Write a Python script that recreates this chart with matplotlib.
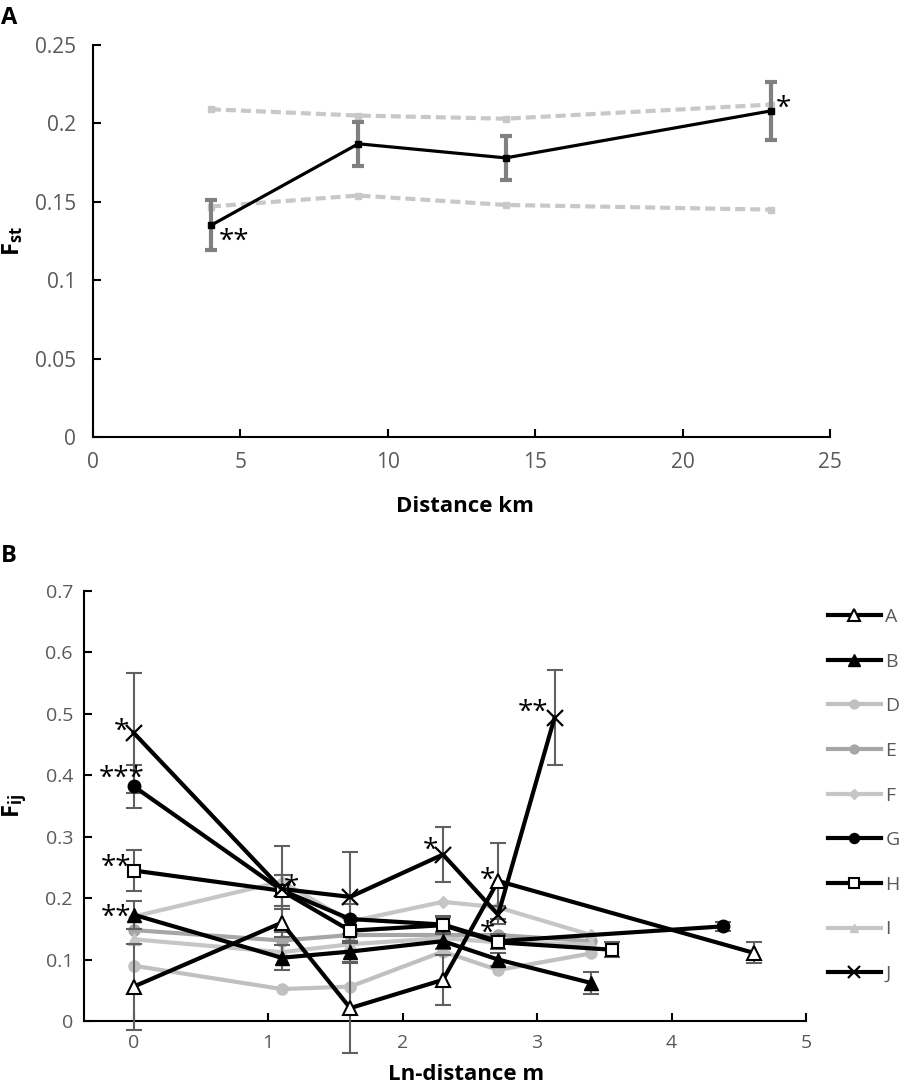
import matplotlib
matplotlib.use("Agg")
import matplotlib.pyplot as plt
from matplotlib.ticker import FuncFormatter

plt.rcParams['font.family'] = ['Open Sans', 'DejaVu Sans']
plt.rcParams['mathtext.fontset'] = 'custom'
plt.rcParams['mathtext.rm'] = 'Open Sans'
plt.rcParams['mathtext.bf'] = 'Open Sans:bold'

# ---- panel A data ----
dist_km = [4, 9, 14, 23]
fst_obs = [0.135, 0.187, 0.178, 0.208]
fst_err = [0.016, 0.014, 0.014, 0.0185]
fst_upper = [0.209, 0.205, 0.203, 0.212]
fst_lower = [0.147, 0.154, 0.148, 0.145]
fst_stars = ['**', '', '', '*']

# ---- panel B data ----
x_A = [0, 1.10, 1.61, 2.30, 2.71, 4.61]
y_A = [0.056, 0.160, 0.021, 0.067, 0.228, 0.111]
e_A = [0.070, 0.023, 0.073, 0.041, 0.062, 0.017]

x_B = [0, 1.10, 1.61, 2.30, 2.71, 3.40]
y_B = [0.173, 0.103, 0.113, 0.130, 0.100, 0.062]
e_B = [0.023, 0.020, 0.017, 0.012, 0.010, 0.018]

x_D = [0, 1.10, 1.61, 2.30, 2.71, 3.40]
y_D = [0.090, 0.052, 0.056, 0.113, 0.083, 0.110]

x_E = [0, 1.10, 1.61, 2.30, 2.71, 3.40]
y_E = [0.148, 0.131, 0.140, 0.140, 0.140, 0.130]

x_F = [0, 1.10, 1.61, 2.30, 2.71, 3.40]
y_F = [0.170, 0.227, 0.162, 0.194, 0.185, 0.140]

x_G = [0, 1.10, 1.61, 2.30, 2.71, 4.38]
y_G = [0.382, 0.213, 0.166, 0.157, 0.130, 0.154]
e_G = [0.035, 0.025, 0.025, 0.012, 0.012, 0.007]

x_H = [0, 1.10, 1.61, 2.30, 2.71, 3.56]
y_H = [0.245, 0.212, 0.147, 0.156, 0.128, 0.116]
e_H = [0.034, 0.025, 0.020, 0.015, 0.010, 0.012]

x_I = [0, 1.10, 1.61, 2.30, 2.71, 3.40]
y_I = [0.133, 0.112, 0.125, 0.135, 0.128, 0.125]

x_J = [0, 1.10, 1.61, 2.30, 2.71, 3.13]
y_J = [0.469, 0.215, 0.202, 0.271, 0.173, 0.494]
e_J = [0.098, 0.070, 0.073, 0.045, 0.015, 0.078]

# significance marks in panel B: (x, y, text, dx px, dy px)
stars_B = [
    (0, 0.469, '*', -12, 1),
    (0, 0.382, '***', -12, 8),
    (0, 0.245, '**', -18, 3),
    (0, 0.173, '**', -18, -3),
    (1.10, 0.213, '*', 10, 2),
    (2.30, 0.271, '*', -13, 4),
    (2.71, 0.228, '*', -11, 0),
    (2.71, 0.130, '*', -11, 7),
    (3.13, 0.494, '**', -22, 5),
]

tick_col = '#595959'
fmt = FuncFormatter(lambda v, p: '%g' % round(v, 3))

fig = plt.figure(figsize=(9.02, 10.91), dpi=100)
W, H = 902, 1091

def style_axes(ax, size):
    for s in ['top', 'right']:
        ax.spines[s].set_visible(False)
    for s in ['left', 'bottom']:
        ax.spines[s].set_linewidth(1.5)
    ax.tick_params(direction='in', length=6, width=1.5, colors='black',
                   labelcolor=tick_col, labelsize=size)
    ax.yaxis.set_major_formatter(fmt)

# ---------- panel A ----------
axA = fig.add_axes([93 / W, 1 - 437 / H, (830 - 93) / W, (437 - 45) / H])
style_axes(axA, 15)
axA.tick_params(axis='y', pad=12)
axA.tick_params(axis='x', pad=11)
axA.plot(dist_km, fst_upper, color='#c8c8c8', lw=3, dashes=(2.4, 1.2),
         marker='s', ms=5, zorder=2)
axA.plot(dist_km, fst_lower, color='#c8c8c8', lw=3, dashes=(2.4, 1.2),
         marker='s', ms=5, zorder=2)
eb = axA.errorbar(dist_km, fst_obs, yerr=fst_err, fmt='none', ecolor='#808080',
                  elinewidth=3, capsize=4, capthick=3, zorder=3)
axA.plot(dist_km, fst_obs, color='black', lw=2.3, marker='s', ms=5, zorder=4)
for xi, yi, s in zip(dist_km, fst_obs, fst_stars):
    if s == '**':
        axA.annotate(s, (xi, yi), xytext=(23, -16), textcoords='offset pixels',
                     ha='center', va='center', fontsize=20)
    elif s == '*':
        axA.annotate(s, (xi, yi), xytext=(12, 2), textcoords='offset pixels',
                     ha='center', va='center', fontsize=20)
axA.set_xlim(0, 25)
axA.set_ylim(0, 0.25)
axA.set_xticks([0, 5, 10, 15, 20, 25])
axA.set_yticks([0, 0.05, 0.1, 0.15, 0.2, 0.25])
axA.set_xlabel('Distance km', fontsize=16, fontweight='bold')
axA.xaxis.set_label_coords((465 - 93) / 737, -69 / 392)
axA.xaxis.label.set_va('center')
axA.set_ylabel(r'$\mathbf{F_{st}}$', fontsize=17)
axA.yaxis.set_label_coords((13 - 93) / 737, 0.5)
axA.yaxis.label.set_va('center')

# ---------- panel B ----------
axB = fig.add_axes([84 / W, 1 - 1021 / H, (806 - 84) / W, (1021 - 591) / H])
style_axes(axB, 14)
axB.tick_params(axis='y', pad=8)
axB.tick_params(axis='x', pad=9)

black_series = [
    ('A', x_A, y_A, e_A, dict(marker='^', mfc='white', mec='black', ms=10, mew=1.5)),
    ('B', x_B, y_B, e_B, dict(marker='^', mfc='black', mec='black', ms=10)),
    ('G', x_G, y_G, e_G, dict(marker='o', mfc='black', mec='black', ms=9)),
    ('H', x_H, y_H, e_H, dict(marker='s', mfc='white', mec='black', ms=9, mew=1.5)),
    ('J', x_J, y_J, e_J, dict(marker='x', mec='black', ms=11, mew=1.6)),
]
gray_series = [
    ('D', x_D, y_D, dict(color='#c0c0c0', marker='o', ms=8)),
    ('E', x_E, y_E, dict(color='#a6a6a6', marker='o', ms=8)),
    ('F', x_F, y_F, dict(color='#c6c6c6', marker='D', ms=6)),
    ('I', x_I, y_I, dict(color='#c6c6c6', marker='^', ms=8)),
]

handles = {}
for name, xs, ys, st in gray_series:
    ln, = axB.plot(xs, ys, lw=3, zorder=2, label=name, **st)
    handles[name] = ln
for name, xs, ys, es, st in black_series:
    eb = axB.errorbar(xs, ys, yerr=es, fmt='none', ecolor='#606060',
                      elinewidth=1.5, capsize=6, capthick=1.5, zorder=3)
    for art in list(eb[1]) + list(eb[2]):
        art.set_clip_on(False)
    ln, = axB.plot(xs, ys, color='black', lw=3, zorder=4, label=name, **st)
    handles[name] = ln

for xi, yi, s, dx, dy in stars_B:
    axB.annotate(s, (xi, yi), xytext=(dx, dy), textcoords='offset pixels',
                 ha='center', va='center', fontsize=20)

axB.set_xlim(-0.37, 5)
axB.set_ylim(0, 0.7)
axB.set_xticks([0, 1, 2, 3, 4, 5])
axB.set_yticks([0, 0.1, 0.2, 0.3, 0.4, 0.5, 0.6, 0.7])
axB.set_xlabel('Ln-distance m', fontsize=16, fontweight='bold')
axB.xaxis.set_label_coords((466 - 84) / 722, -53 / 430)
axB.xaxis.label.set_va('center')
axB.set_ylabel(r'$\mathbf{F_{ij}}$', fontsize=17)
axB.yaxis.set_label_coords((15 - 84) / 722, 0.5)
axB.yaxis.label.set_va('center')

order = ['A', 'B', 'D', 'E', 'F', 'G', 'H', 'I', 'J']
leg = axB.legend([handles[k] for k in order], order, loc='upper left',
                 bbox_to_anchor=(828 / W, 1 - 608 / H), bbox_transform=fig.transFigure,
                 frameon=False, borderpad=0, borderaxespad=0, fontsize=14,
                 handlelength=2.7, handletextpad=0.25, labelspacing=1.37,
                 markerscale=0.8)
for t in leg.get_texts():
    t.set_color(tick_col)

fig.text(1 / W, 1 - 24 / H, 'A', fontsize=17, fontweight='bold', va='baseline')
fig.text(1 / W, 1 - 562 / H, 'B', fontsize=17, fontweight='bold', va='baseline')

fig.savefig('out.png', dpi=100)
